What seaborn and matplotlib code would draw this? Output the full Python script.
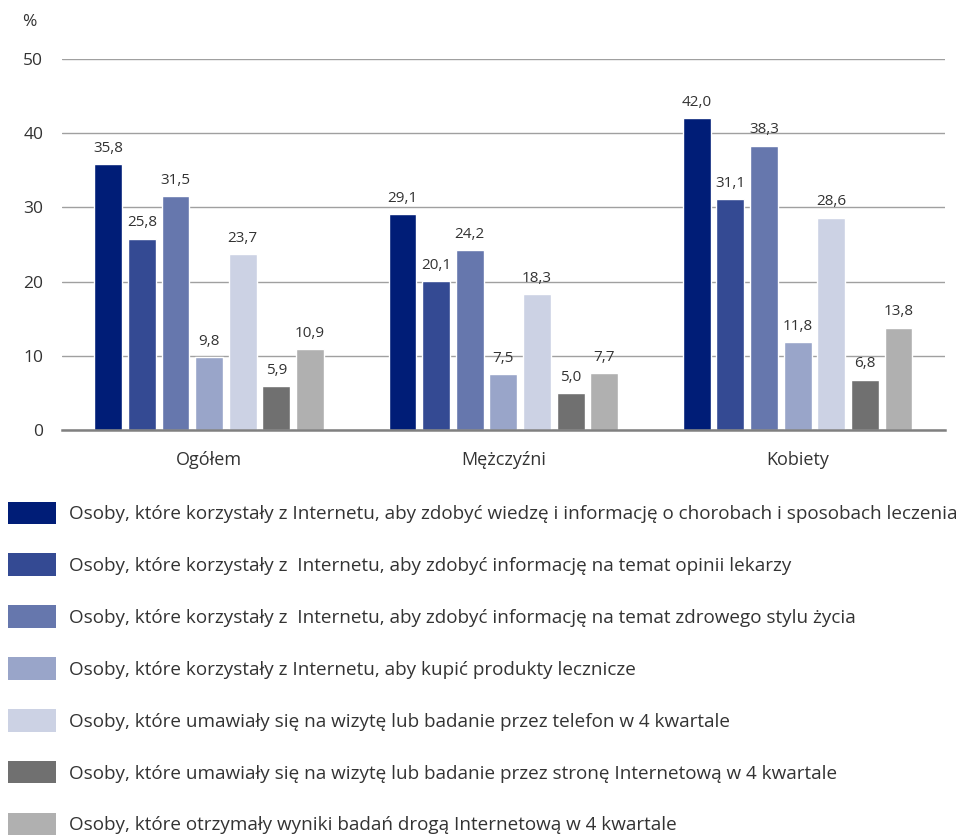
import matplotlib
matplotlib.use("Agg")
import matplotlib.pyplot as plt
import seaborn as sns
import pandas as pd
from matplotlib.patches import Patch

groups = ["Ogółem", "Mężczyźni", "Kobiety"]
series = [
    "Osoby, które korzystały z Internetu, aby zdobyć wiedzę i informację o chorobach i sposobach leczenia",
    "Osoby, które korzystały z  Internetu, aby zdobyć informację na temat opinii lekarzy",
    "Osoby, które korzystały z  Internetu, aby zdobyć informację na temat zdrowego stylu życia",
    "Osoby, które korzystały z Internetu, aby kupić produkty lecznicze",
    "Osoby, które umawiały się na wizytę lub badanie przez telefon w 4 kwartale",
    "Osoby, które umawiały się na wizytę lub badanie przez stronę Internetową w 4 kwartale",
    "Osoby, które otrzymały wyniki badań drogą Internetową w 4 kwartale",
]
values = [
    [35.8, 29.1, 42.0],
    [25.8, 20.1, 31.1],
    [31.5, 24.2, 38.3],
    [9.8, 7.5, 11.8],
    [23.7, 18.3, 28.6],
    [5.9, 5.0, 6.8],
    [10.9, 7.7, 13.8],
]
colors = ["#001D77", "#344A93", "#6677AD", "#99A5C9", "#CCD2E4", "#707070", "#B0B0B0"]
yticks = [0, 10, 20, 30, 40, 50]

rows = []
for s, vals in zip(series, values):
    for g, v in zip(groups, vals):
        rows.append({"group": g, "series": s, "value": v})
df = pd.DataFrame(rows)

sns.set_theme(style="white")
plt.rcParams["font.family"] = ["Open Sans", "DejaVu Sans"]
text_color = "#333333"

fig = plt.figure(figsize=(9.68, 8.39), dpi=100)
ax = fig.add_axes([0.064, 0.4875, 0.912, 0.4422])

sns.barplot(data=df, x="group", y="value", hue="series", hue_order=series,
            order=groups, palette=colors, width=0.8, gap=0.17, ax=ax,
            legend=False, saturation=1, errorbar=None)

for cont in ax.containers:
    ax.bar_label(cont, labels=[f"{b.get_height():.1f}".replace(".", ",") for b in cont],
                 padding=6, fontsize=11, color=text_color)

ax.set_ylim(0, 50)
ax.set_xlim(-0.5, 2.5)
ax.set_yticks(yticks)
ax.set_yticklabels([str(t) for t in yticks], fontsize=12.5, color=text_color)
ax.set_xticks(range(len(groups)))
ax.set_xticklabels(groups, fontsize=13, color=text_color)
ax.tick_params(axis="y", length=0, pad=13.5)
ax.tick_params(axis="x", length=0, pad=15)
ax.set_xlabel("")
ax.set_ylabel("")
for sp in ["top", "right", "left"]:
    ax.spines[sp].set_visible(False)
ax.spines["bottom"].set_color("#808080")
ax.spines["bottom"].set_linewidth(1.8)
ax.yaxis.grid(True, color="#A0A0A0", linewidth=1)
ax.set_axisbelow(True)

fig.text(22 / 968, 1 - 22 / 839, "%", fontsize=12.5, color=text_color, va="center", ha="left")

handles = [Patch(facecolor=c, edgecolor="none") for c in colors]
fig.legend(handles, series, loc="upper left", bbox_to_anchor=(0.0, 1 - 494 / 839),
           frameon=False, fontsize=13.6, handlelength=2.55, handleheight=1.45,
           handletextpad=0.68, labelspacing=1.56, borderaxespad=0, borderpad=0.4,
           labelcolor=text_color)

fig.savefig("out.png", dpi=100)
